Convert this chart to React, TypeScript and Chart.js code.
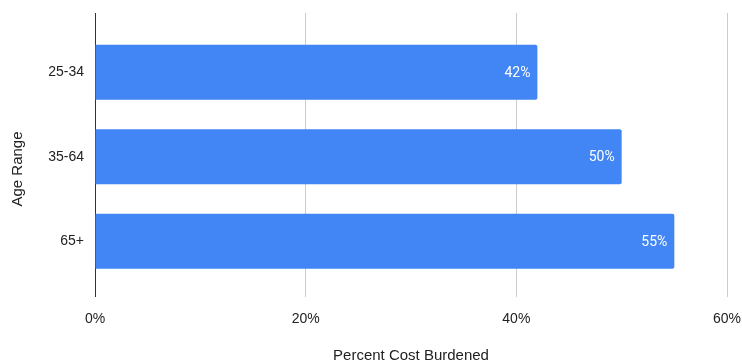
import React, { useEffect, useRef } from "react";
import { Chart, registerables } from "chart.js";

Chart.register(...registerables);

const categories = ["25-34", "35-64", "65+"];
const values = [42, 50, 55];
const valueLabels = ["42%", "50%", "55%"];
const xTicks = [0, 20, 40, 60];
const yTitle = "Age Range";
const xTitle = "Percent Cost Burdened";

const FONT = "'Liberation Sans', Arial, sans-serif";

const barLabelPlugin = {
  id: "barLabels",
  afterDatasetsDraw(chart: any) {
    const ctx = chart.ctx;
    const meta = chart.getDatasetMeta(0);
    ctx.save();
    ctx.fillStyle = "#ffffff";
    ctx.font = `14px Roboto, ${FONT}`;
    ctx.textAlign = "right";
    ctx.textBaseline = "middle";
    meta.data.forEach((bar: any, i: number) => {
      ctx.fillText(valueLabels[i], bar.x - 7, bar.y + 1);
    });
    ctx.restore();
  },
};

const yTitlePlugin = {
  id: "yTitle",
  afterDraw(chart: any) {
    const ctx = chart.ctx;
    ctx.save();
    ctx.fillStyle = "#222222";
    ctx.font = `15px ${FONT}`;
    ctx.textAlign = "center";
    ctx.textBaseline = "middle";
    ctx.translate(18, chart.chartArea.top + 156);
    ctx.rotate(-Math.PI / 2);
    ctx.fillText(yTitle, 0, 0);
    ctx.restore();
  },
};

export default function App() {
  const ref = useRef<HTMLCanvasElement>(null);
  useEffect(() => {
    document.body.style.margin = "0";
    const chart = new Chart(ref.current!, {
      type: "bar",
      data: {
        labels: categories,
        datasets: [
          {
            data: values,
            backgroundColor: "#4285F4",
            borderRadius: { topRight: 2, bottomRight: 2, topLeft: 0, bottomLeft: 0 },
            borderSkipped: false,
            barPercentage: 0.65,
            categoryPercentage: 1,
          },
        ],
      },
      options: {
        indexAxis: "y",
        animation: false,
        responsive: false,
        maintainAspectRatio: false,
        layout: { padding: { top: 13, right: 15, bottom: 0, left: 0 } },
        plugins: { legend: { display: false }, tooltip: { enabled: false } },
        scales: {
          x: {
            min: 0,
            max: 60,
            afterBuildTicks: (scale: any) => {
              scale.ticks = xTicks.map((v) => ({ value: v }));
            },
            afterFit: (scale: any) => {
              scale.height = 362 - 297;
              scale.paddingLeft = 0;
              scale.paddingRight = 0;
            },
            border: { display: false },
            grid: {
              drawTicks: false,
              color: (c: any) => (c.tick && c.tick.value === 0 ? "#333333" : "#cccccc"),
              lineWidth: 1,
            },
            ticks: {
              padding: 14,
              color: "#222222",
              font: { family: FONT, size: 14 },
              callback: (v: any) => v + "%",
              maxRotation: 0,
            },
            title: {
              display: true,
              text: xTitle,
              color: "#222222",
              font: { family: FONT, size: 15 },
              padding: { top: 4, bottom: -3 },
            },
          },
          y: {
            afterFit: (scale: any) => {
              scale.width = 95;
              scale.paddingTop = 0;
              scale.paddingBottom = 0;
            },
            afterUpdate: (scale: any) => {
              scale._startValue = -0.7;
              scale._valueRange = 3.36;
            },
            border: { display: false },
            grid: { display: false, drawTicks: false },
            ticks: {
              padding: 11,
              color: "#222222",
              font: { family: FONT, size: 14 },
            },
            title: { display: false },
          },
        },
      },
      plugins: [barLabelPlugin, yTitlePlugin],
    } as any);
    return () => chart.destroy();
  }, []);
  return (
    <div style={{ width: 742, height: 362 }}>
      <canvas ref={ref} width={742} height={362} style={{ display: "block" }} />
    </div>
  );
}
